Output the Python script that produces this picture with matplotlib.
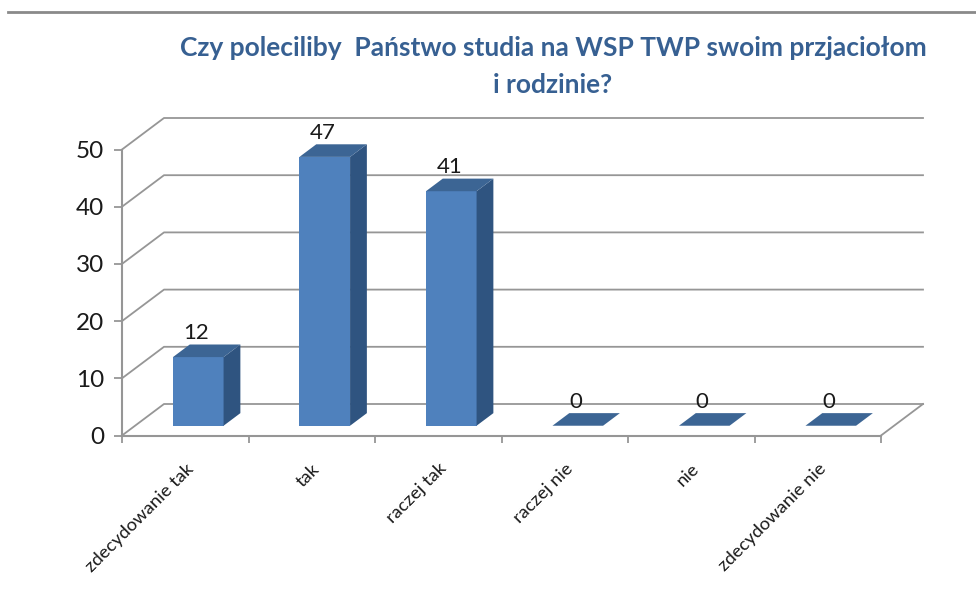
import numpy as np
import matplotlib
matplotlib.use("Agg")
import matplotlib.pyplot as plt
from matplotlib.lines import Line2D

categories = ['zdecydowanie tak', 'tak', 'raczej tak', 'raczej nie', 'nie', 'zdecydowanie nie']
values = [12, 47, 41, 0, 0, 0]
y_ticks = [0, 10, 20, 30, 40, 50]
title = 'Czy poleciliby  Państwo studia na WSP TWP swoim przjaciołom\ni rodzinie?'

W, H = 976, 603
GRID = '#969696'
FRONT = '#4F81BD'
SIDE = '#2F5480'
TOP = '#3C6594'

plt.rcParams['font.family'] = ['Lato', 'DejaVu Sans']

fig = plt.figure(figsize=(W / 100, H / 100), dpi=100)
# osie w pikselach obrazka
ax = fig.add_axes([122 / W, 1 - 435.5 / H, 759 / W, 286 / H])
ax.set_xlim(0, 6)
ax.set_ylim(0, 50)

# przesuniecie "w glab" wykresu 3D w jednostkach danych
depth_x = 42 / 126.5
depth_y = 31.5 / 5.72
bar_w = 0.4


def oblique(x, y, d):
    return x + d * depth_x, y + d * depth_y


# tylna sciana, lewa sciana i podloga
for v in y_ticks:
    xb, yb = oblique(0, v, 1)
    xe, ye = oblique(6, v, 1)
    ax.plot([0, xb, xe], [v, yb, ye], color=GRID, lw=1.3, clip_on=False, zorder=1)
xb, yb = oblique(6, 0, 1)
ax.plot([6, xb], [0, yb], color=GRID, lw=1.3, clip_on=False, zorder=1)

# slupki
for i, v in enumerate(values):
    x0 = i + 0.5 - bar_w / 2
    x1 = x0 + bar_w
    d0, d1 = 0.31, 0.71
    ax_, ay = oblique(x0, 0, d0)
    bx, by = oblique(x1, 0, d0)
    cx, cy = oblique(x1, 0, d1)
    dx_, dy_ = oblique(x0, 0, d1)
    if v > 0:
        ax.fill([ax_, bx, bx, ax_], [ay, by, by + v, ay + v], color=FRONT, lw=0, zorder=3, clip_on=False)
        ax.fill([bx, cx, cx, bx], [by, cy, cy + v, by + v], color=SIDE, lw=0, zorder=3, clip_on=False)
    ax.fill([ax_, bx, cx, dx_], [ay + v, by + v, cy + v, dy_ + v], color=TOP, lw=0, zorder=3, clip_on=False)
    ax.annotate(str(v), xy=((ax_ + bx) / 2, dy_ + v), xytext=(-1.5, 1), textcoords='offset points',
                ha='center', va='bottom', fontsize=16, color='#1A1A1A', zorder=4, annotation_clip=False)

for s in ['top', 'right']:
    ax.spines[s].set_visible(False)
for s in ['left', 'bottom']:
    ax.spines[s].set_color(GRID)
    ax.spines[s].set_linewidth(1.5)

ax.set_yticks(y_ticks)
ax.tick_params(axis='y', length=6, width=1.3, color=GRID, labelsize=17.5, labelcolor='#1A1A1A', pad=7)
ax.set_xticks(np.arange(0, 7))
ax.set_xticklabels([])
ax.set_xticks(np.arange(6) + 0.5, minor=True)
ax.set_xticklabels(categories, minor=True, rotation=45, ha='right', va='top', rotation_mode='anchor',
                   fontsize=13.2, color='#1A1A1A')
ax.tick_params(axis='x', which='major', length=5, width=1.3, color=GRID)
ax.tick_params(axis='x', which='minor', length=0, pad=18)
ax.patch.set_alpha(0)

# tytul i linia u gory
fig.text(553 / W, 1 - 48 / H, title.split('\n')[0], ha='center', va='center', fontsize=19,
         fontweight='bold', color='#376092')
fig.text(553 / W, 1 - 85 / H, title.split('\n')[1], ha='center', va='center', fontsize=19,
         fontweight='bold', color='#376092')
fig.add_artist(Line2D([8 / W, 1], [1 - 12 / H, 1 - 12 / H], color='#8A8A8A', lw=2, transform=fig.transFigure))

fig.savefig('out.png', dpi=100)
